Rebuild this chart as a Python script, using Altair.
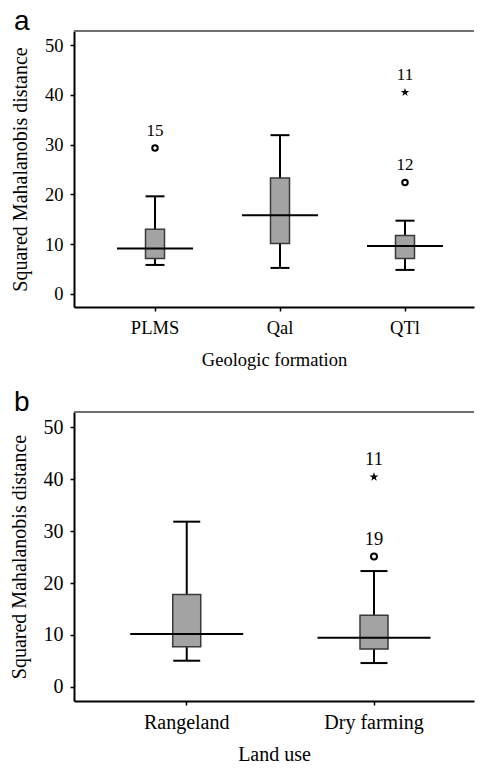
import altair as alt
import pandas as pd

# ---------------- data ----------------
cats_a = ["PLMS", "Qal", "QTl"]
lo_a = [5.8, 5.2, 4.8]
q1_a = [7.1, 10.1, 7.1]
med_a = [9.1, 15.8, 9.6]
q3_a = [13.0, 23.3, 11.7]
hi_a = [19.6, 31.9, 14.7]

out_cat_a = ["PLMS", "QTl", "QTl"]
out_val_a = [29.3, 22.4, 40.5]
out_kind_a = ["outlier", "outlier", "extreme"]
out_lab_a = ["15", "12", "11"]

cats_b = ["Rangeland", "Dry farming"]
lo_b = [5.05, 4.6]
q1_b = [7.75, 7.3]
med_b = [10.2, 9.45]
q3_b = [17.8, 13.8]
hi_b = [31.8, 22.3]

out_cat_b = ["Dry farming", "Dry farming"]
out_val_b = [25.1, 40.4]
out_kind_b = ["outlier", "extreme"]
out_lab_b = ["19", "11"]

Y_TICKS = [0, 10, 20, 30, 40, 50]
YTITLE = "Squared Mahalanobis distance"
SERIF = "Liberation Serif"
W = 400
STAR = ("M0,-1L0.2245,-0.309L0.9511,-0.309L0.3633,0.118L0.5878,0.809L0,0.382"
        "L-0.5878,0.809L-0.3633,0.118L-0.9511,-0.309L-0.2245,-0.309Z")


def panel(letter, cats, lo, q1, med, q3, hi, ocat, oval, okind, olab,
          xtitle, height, ydom, pad_outer, align, box_w, cap_w, med_w,
          fs_lab, fs_title, fs_num, num_dy, lab_pad, title_pad, circ, star):
    box = pd.DataFrame({"cat": cats, "lo": lo, "q1": q1, "med": med, "q3": q3, "hi": hi})
    out = pd.DataFrame({"cat": ocat, "v": oval, "kind": okind, "lab": olab})

    xsc = alt.Scale(type="band", domain=cats, paddingInner=0, paddingOuter=pad_outer, align=align)
    xax = alt.Axis(labelAngle=0, labelFont=SERIF, labelFontSize=fs_lab, titleFont=SERIF,
                   titleFontSize=fs_lab, titleFontWeight="normal", titleColor="black",
                   labelColor="black", tickSize=4, tickColor="black", tickWidth=1.5,
                   domainColor="black", domainWidth=2, labelPadding=lab_pad,
                   titlePadding=title_pad, grid=False)
    ysc = alt.Scale(domain=ydom, nice=False, zero=False)
    yax = alt.Axis(values=Y_TICKS, labelFont=SERIF, labelFontSize=fs_lab, titleFont=SERIF,
                   titleFontSize=fs_title, titleFontWeight="normal", titleColor="black",
                   labelColor="black", tickSize=4, tickColor="black", tickWidth=1.5,
                   domainColor="black", domainWidth=2, labelPadding=7, titlePadding=14,
                   grid=False)

    def X():
        return alt.X("cat:N", scale=xsc, axis=xax, title=xtitle, sort=cats)

    def Y(f):
        return alt.Y(f"{f}:Q", scale=ysc, axis=yax, title=YTITLE)

    base = alt.Chart(box)
    whisk = base.mark_rule(color="black", strokeWidth=2).encode(x=X(), y=Y("lo"), y2="hi:Q")
    cap_lo = base.mark_tick(color="black", thickness=2, size=cap_w, opacity=1).encode(x=X(), y=Y("lo"))
    cap_hi = base.mark_tick(color="black", thickness=2, size=cap_w, opacity=1).encode(x=X(), y=Y("hi"))
    rect = base.mark_bar(size=box_w, color="#a3a3a3", stroke="#3a3a3a", strokeWidth=1.5,
                         opacity=1).encode(x=X(), y=Y("q1"), y2="q3:Q")
    medl = base.mark_tick(color="black", thickness=2, size=med_w, opacity=1).encode(x=X(), y=Y("med"))

    ob = alt.Chart(out)
    circles = ob.transform_filter(alt.datum.kind == "outlier").mark_point(
        shape="circle", filled=False, size=circ, strokeWidth=2, color="black",
        opacity=1).encode(x=X(), y=Y("v"))
    stars = ob.transform_filter(alt.datum.kind == "extreme").mark_point(
        shape=STAR, filled=True, size=star, color="black", opacity=1).encode(x=X(), y=Y("v"))
    nums = ob.mark_text(font=SERIF, fontSize=fs_num, dy=num_dy, baseline="middle",
                        color="black").encode(x=X(), y=Y("v"), text="lab:N")

    topline = alt.Chart(pd.DataFrame({"d": [0]})).mark_rule(color="#707070", strokeWidth=2).encode(
        x=alt.value(0), x2=alt.value(W), y=alt.value(0))

    return alt.layer(whisk, cap_lo, cap_hi, rect, medl, circles, stars, nums, topline).properties(
        width=W, height=height,
        title=alt.TitleParams(letter, anchor="start", frame="group", dx=-60, offset=-6,
                              font="Liberation Sans", fontSize=28,
                              fontWeight="normal", color="black"))


pa = panel("a", cats_a, lo_a, q1_a, med_a, q3_a, hi_a, out_cat_a, out_val_a, out_kind_a, out_lab_a,
           "Geologic formation", 276, [-2.66, 52.85], 0.1, 0.74, 19, 19, 76,
           18.5, 20, 17, -17, 7, 14, 30, 80)
pb = panel("b", cats_b, lo_b, q1_b, med_b, q3_b, hi_b, out_cat_b, out_val_b, out_kind_b, out_lab_b,
           "Land use", 289, [-2.7, 52.9], 0.068, 0.75, 28, 27, 113,
           20, 20, 18.5, -18, 7, 12, 36, 90)

chart = alt.vconcat(pa, pb, spacing=20).properties(
    padding={"left": 0, "top": 0, "right": 0, "bottom": -3}
).configure_view(stroke=None)

chart.save("out.html", embed_options={"renderer": "svg", "actions": False})
